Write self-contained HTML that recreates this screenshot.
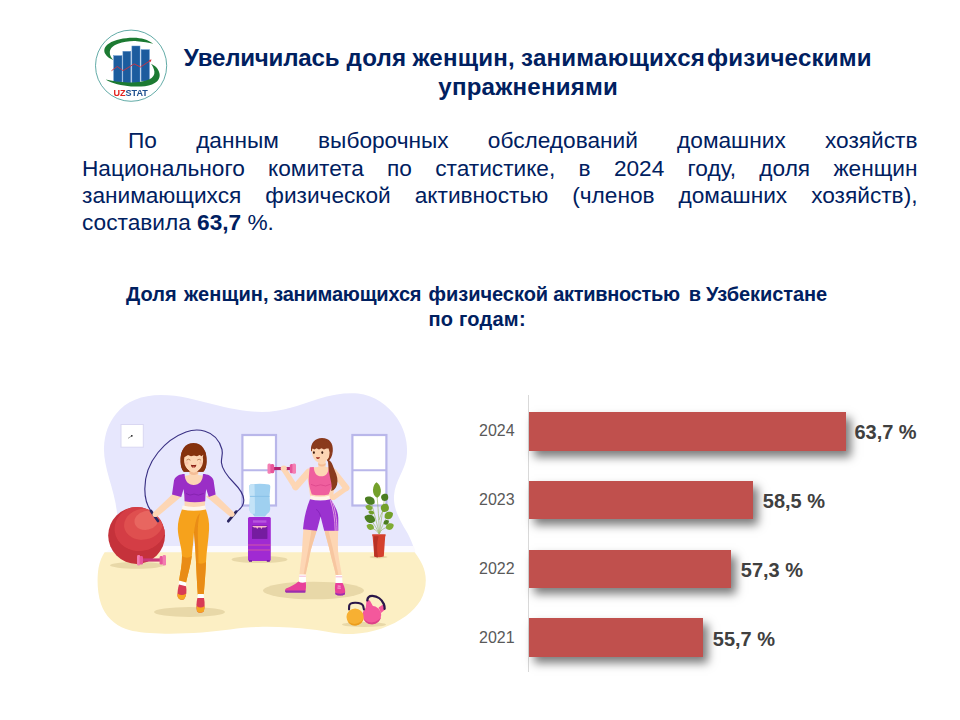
<!DOCTYPE html>
<html lang="ru">
<head>
<meta charset="utf-8">
<title>Увеличилась доля женщин, занимающихся физическими упражнениями</title>
<style>
html,body{margin:0;padding:0;background:#fff;}
body{width:960px;height:720px;position:relative;overflow:hidden;font-family:"Liberation Sans",sans-serif;color:#002060;}
.abs{position:absolute;}
#title{left:0;top:42.8px;width:960px;height:58px;font-weight:bold;font-size:24.08px;line-height:29px;}
#title i{position:absolute;top:0;font-style:normal;white-space:nowrap;}
#body{left:82px;top:127.4px;width:835.5px;font-size:22.67px;line-height:27.25px;}
.jl{text-align:justify;text-align-last:justify;}
#sub{left:0;top:282.4px;width:960px;height:50px;font-weight:bold;font-size:20px;line-height:24.2px;}
#sub i{position:absolute;top:0;font-style:normal;white-space:nowrap;}
.yr{font-size:16px;color:#595959;left:479px;line-height:18px;}
.val{font-size:20px;font-weight:bold;color:#404040;line-height:22px;white-space:nowrap;}
.bar{background:#c0504d;left:529px;box-shadow:5px 6px 9px rgba(0,0,0,.52);}
#axis{left:528px;top:395px;width:1px;height:277px;background:#d9d9d9;}
</style>
</head>
<body>
<svg class="abs" style="left:90px;top:25px" width="82" height="82" viewBox="90 25 82 82">
<defs><filter id="lsoft" x="-5%" y="-5%" width="110%" height="110%"><feGaussianBlur stdDeviation="0.35"/></filter></defs>
<g filter="url(#lsoft)">
<circle cx="131.1" cy="65.7" r="35.6" fill="#fff" stroke="#2f8f8a" stroke-width="0.75"/>
<path d="M153.4 43.8 C148 39.6 141 37.6 133 37.7 C124 37.8 115 39.6 109 43.4 C104.6 46.2 103.2 50 105.2 53.8 C107 57 110.4 59 113.4 60 C111 57.6 109.6 55 109.8 52 C110 48.6 113 45.6 118 43.8 C124 41.6 131 40.8 137 41.2 C143 41.6 149 42.6 153.4 43.8Z" fill="#1b7a33"/>
<g fill="#1d5b9e" stroke="#5d93cc" stroke-width="0.5">
<rect x="113.7" y="55.7" width="8.3" height="26.4"/>
<rect x="122.9" y="51.3" width="7.9" height="31.8"/>
<rect x="131.9" y="46" width="8.1" height="37"/>
<rect x="141.1" y="49.7" width="8.3" height="31.4"/>
</g>
<path d="M151 63.7 C156 66 159 69.6 159.6 74 C160.2 78.6 157.4 82.4 152 84.4 C146 86.8 138 86.8 131 86.4 C122 85.8 112 83.6 105.6 79.6 C112 81.2 120 82.2 128 82.5 C136 82.8 143.6 82 149 79.6 C153 77.6 154.8 74.8 154.4 71.4 C154 68.6 152.8 66 151 63.7Z" fill="#1b7a33"/>
<path d="M111.5 70.7 L117.3 66.5 L123.1 70.7 L134.2 63.9 L140.5 67 L150.6 60.4" fill="none" stroke="#d3323c" stroke-width="0.9"/>
<path d="M151.6 59.6 L148.8 60 L150.4 62.2Z" fill="#d3323c"/>
<text x="113.5" y="95.5" font-family="'Liberation Sans',sans-serif" font-weight="bold" font-size="8.6" textLength="34.4" lengthAdjust="spacingAndGlyphs"><tspan fill="#e2231f">UZ</tspan><tspan fill="#1d4f8e">STAT</tspan></text>
</g>
</svg>

<div id="title" class="abs"><i style="left:183.8px;letter-spacing:-.2px">Увеличилась</i> <i style="left:346.6px;letter-spacing:.25px">доля</i> <i style="left:412.4px;letter-spacing:.2px">женщин,</i> <i style="left:521px;letter-spacing:.24px">занимающихся</i> <i style="left:707px;letter-spacing:.2px">физическими</i> <i style="left:438.3px;top:29px;letter-spacing:.22px">упражнениями</i></div>
<div id="body" class="abs">
<div class="jl" style="padding-left:46px">По данным выборочных обследований домашних хозяйств</div>
<div class="jl">Национального комитета по статистике, в 2024 году, доля женщин</div>
<div class="jl">занимающихся физической активностью (членов домашних хозяйств),</div>
<div>составила <b>63,7</b> %.</div>
</div>
<div id="sub" class="abs"><i style="left:126px">Доля</i> <i style="left:184px;letter-spacing:.1px">женщин,</i> <i style="left:273.2px;letter-spacing:-.2px">занимающихся</i> <i style="left:428.5px;letter-spacing:-.03px">физической</i> <i style="left:553.2px;letter-spacing:-.3px">активностью</i>  <i style="left:688.7px">в</i> <i style="left:706px;letter-spacing:-.08px">Узбекистане</i> <i style="left:428.4px;top:24.2px;letter-spacing:.25px">по годам:</i></div>
<svg class="abs" style="left:0;top:0" width="960" height="720" viewBox="0 0 960 720">
<defs>
<clipPath id="floorclip"><path d="M96 540 H445 V650 H96Z"/></clipPath>
<filter id="soft" x="-5%" y="-5%" width="110%" height="110%"><feGaussianBlur stdDeviation="0.45"/></filter>
</defs>
<g filter="url(#soft)">
<!-- wall blob -->
<path d="M117.5 552 L117.5 522 C117.5 506 113 492 109 478 C106 467 103.6 457 104 447 C104.6 434 108.5 423 116 414 C126 401 142 395 161 395 C180 395 196 400 212 404 C230 408.5 246 412 262 412 C282 412 300 405 318 399 C332 394.5 346 392.5 358 393.5 C374 395 388 405 397 418 C405 430 408.5 444 406.5 458 C404.5 471 395 481 394 496 C393.2 510 401 522 408 534 C411 540 413.5 546 415 552 Z" fill="#e7e7fd"/>
<!-- baseboard -->
<path d="M117.5 546 H414 L415.5 553 H105 Q110 548 117.5 546Z" fill="#fbfaff"/>
<!-- floor -->
<path d="M104.6 552.3 H414.6 C420.8 560.5 425.8 569 425.8 580 C425.8 596 418 607 406 616 C392 626 373 633 353 634 C336 634.5 326 631 312 629.5 C294 627.5 276 626.5 258 627 C238 627.5 222 631 202 632.5 C186 633.5 172 634 160 633.5 C146 633 134 632 126 629 C114 624.5 105 616 101 604 C97 592 97 578 98.5 568 C99.8 561 102 556.5 104.6 552.3Z" fill="#fcefc4"/>

<!-- windows -->
<g fill="#fff" stroke="#b9b7ea" stroke-width="2.2">
<rect x="242.4" y="435" width="33.6" height="70.5"/>
<rect x="352.4" y="435" width="34" height="70.5"/>
</g>
<path d="M242.4 470.3 H276 M352.4 470.3 H386.4" stroke="#b9b7ea" stroke-width="2" fill="none"/>
<!-- clock -->
<rect x="121" y="424.5" width="22.3" height="22.7" fill="#fff" stroke="#d9d7f2" stroke-width="1"/>
<path d="M131.8 435.8 L128 438.4" stroke="#555" stroke-width="0.6"/>
<circle cx="131.8" cy="435.8" r="0.9" fill="#222"/>
<!-- shadows -->
<g fill="#e8d8a8">
<ellipse cx="137" cy="565.3" rx="27" ry="3.4"/>
<ellipse cx="259.5" cy="559.5" rx="28" ry="3.6"/>
<ellipse cx="189.5" cy="612" rx="35.5" ry="5"/>
<ellipse cx="313.5" cy="590.5" rx="50.5" ry="8.8"/>
<ellipse cx="364" cy="624.5" rx="22" ry="2.6"/>
<ellipse cx="378.5" cy="557" rx="9" ry="1.5"/>
</g>
<!-- ball -->
<clipPath id="ballclip"><circle cx="136.6" cy="535.5" r="28.4"/></clipPath>
<circle cx="136.6" cy="535.5" r="28.4" fill="#c5303a"/>
<g clip-path="url(#ballclip)">
<ellipse cx="140" cy="528.4" rx="25.5" ry="22.6" fill="#d43e44" transform="rotate(-8 140 528.4)"/>
<ellipse cx="143.4" cy="524.2" rx="19.4" ry="15.4" fill="#df5050" transform="rotate(-10 143.4 524.2)"/>
<ellipse cx="146.4" cy="520.4" rx="12" ry="9.4" fill="#e86660" transform="rotate(-12 146.4 520.4)"/>
</g>
<!-- small dumbbell -->
<rect x="142" y="558.4" width="20" height="3.2" fill="#c9387a"/>
<rect x="137" y="555" width="3.2" height="10.6" rx="1.4" fill="#f27bb0"/>
<rect x="139.6" y="556" width="3.4" height="8.6" rx="1.4" fill="#e8559a"/>
<rect x="159.6" y="556" width="3.4" height="8.6" rx="1.4" fill="#e8559a"/>
<rect x="162.6" y="555" width="3.4" height="10.6" rx="1.4" fill="#f27bb0"/>
<!-- water cooler -->
<path d="M250.5 484.5 Q259.7 483 269 484.5 Q270.5 485 270.3 487 L269.6 495.5 Q269.4 496.5 269.6 497.5 L270.2 509 Q270.3 512 267 514 L265 516.5 H254.5 L252.5 514 Q249.2 512 249.3 509 L249.9 497.5 Q250.1 496.5 249.9 495.5 L249.2 487 Q249 485 250.5 484.5Z" fill="#9fd0f0"/>
<path d="M250.5 484.5 Q252.5 484.2 254.5 484 L254.8 495.5 L255 513.5 L252.5 514 Q249.2 512 249.3 509 L249.9 497.5 L249.2 487 Q249 485 250.5 484.5Z" fill="#c3e3f7"/>
<path d="M249.9 496.4 H269.6" stroke="#86bfe6" stroke-width="0.9"/>
<rect x="248" y="517" width="22.8" height="44" rx="1.5" fill="#a02ad2"/>
<rect x="252" y="525.5" width="15.4" height="13.4" fill="#741ca0"/>
<rect x="253" y="520.3" width="13.4" height="2.4" fill="#b755de"/>
<path d="M252 526 h15.4 l-2 1.6 h-3 l-1 1.4 l-1-1.4 h-2.2 l-1 1.4 l-1-1.4 h-2.2Z" fill="#f7b6c8"/>
<path d="M248 545 H270.8 M248 550 H270.8" stroke="#e0609a" stroke-width="0.8"/>
<rect x="249" y="560.2" width="3" height="1.6" fill="#741ca0"/><rect x="266.8" y="560.2" width="3" height="1.6" fill="#741ca0"/>
<!-- plant -->
<path d="M379.3 534 C379 520 378 506 377 496 M379.3 534 C377 524 374 512 371 502 M379.3 534 C381 522 383 508 384.5 499 M379.3 534 C376.5 528 373.5 523 371 520 M379.3 534 C382 526 385.5 519 388 516 M379.3 534 C380.5 530 384 528 388 527 M379.3 534 C377.5 531 374 529 371.5 528 M379 520 C381 514 383 510 384.5 508.5" stroke="#9dbb6a" stroke-width="0.7" fill="none"/>
<path transform="translate(376.9 490) rotate(-3) scale(4.26 7.88)" d="M0 -1 C0.95 -0.7 1.5 0.55 0 1 C-1.5 0.55 -0.95 -0.7 0 -1Z" fill="#73a02c"/>
<path transform="translate(384.8 497.3) rotate(35) scale(3.92 3.99)" d="M0 -1 C0.95 -0.7 1.5 0.55 0 1 C-1.5 0.55 -0.95 -0.7 0 -1Z" fill="#4c7d20"/>
<path transform="translate(369.8 500.6) rotate(-62) scale(4.26 5.46)" d="M0 -1 C0.95 -0.7 1.5 0.55 0 1 C-1.5 0.55 -0.95 -0.7 0 -1Z" fill="#4c7d20"/>
<path transform="translate(385 507.8) rotate(30) scale(4.48 4.51)" d="M0 -1 C0.95 -0.7 1.5 0.55 0 1 C-1.5 0.55 -0.95 -0.7 0 -1Z" fill="#73a02c"/>
<path transform="translate(369 507.5) rotate(-70) scale(2.80 3.78)" d="M0 -1 C0.95 -0.7 1.5 0.55 0 1 C-1.5 0.55 -0.95 -0.7 0 -1Z" fill="#7fab35"/>
<path transform="translate(371.3 512.5) rotate(-75) scale(2.13 3.04)" d="M0 -1 C0.95 -0.7 1.5 0.55 0 1 C-1.5 0.55 -0.95 -0.7 0 -1Z" fill="#73a02c"/>
<path transform="translate(388.8 515.3) rotate(60) scale(3.92 4.73)" d="M0 -1 C0.95 -0.7 1.5 0.55 0 1 C-1.5 0.55 -0.95 -0.7 0 -1Z" fill="#73a02c"/>
<path transform="translate(369.8 518.8) rotate(-68) scale(4.26 5.67)" d="M0 -1 C0.95 -0.7 1.5 0.55 0 1 C-1.5 0.55 -0.95 -0.7 0 -1Z" fill="#4c7d20"/>
<path transform="translate(386.3 522.3) rotate(55) scale(2.46 3.04)" d="M0 -1 C0.95 -0.7 1.5 0.55 0 1 C-1.5 0.55 -0.95 -0.7 0 -1Z" fill="#4c7d20"/>
<path transform="translate(389.8 526.5) rotate(65) scale(3.47 4.30)" d="M0 -1 C0.95 -0.7 1.5 0.55 0 1 C-1.5 0.55 -0.95 -0.7 0 -1Z" fill="#7fab35"/>
<path transform="translate(370.3 526.9) rotate(-65) scale(3.14 3.99)" d="M0 -1 C0.95 -0.7 1.5 0.55 0 1 C-1.5 0.55 -0.95 -0.7 0 -1Z" fill="#7fab35"/>
<path d="M372.2 534.2 H385.6 V536.2 H385.2 L383.8 556.4 Q379 558 374.3 556.4 L372.6 536.2 H372.2Z" fill="#d4402f"/>
<path d="M373.8 536.2 H378.6 C376.8 542 376.6 550 378 557.4 Q376 557.2 374.3 556.4Z" fill="#b83226"/>
<!-- kettlebells -->
<path d="M365.6 609 L366.6 600.6 Q368.4 599.4 370 600.8 L373.4 607 Z M378.6 607.6 L382.6 604.8 Q384.6 606 385.2 609.4 L381 613Z" fill="#f4589c"/>
<path d="M367.3 600.4 C367.6 597.4 369.6 595.8 372.4 595.9 C377.4 596.2 382 599.6 383.8 604 C384.4 605.6 384.7 607.2 384.6 608.8" fill="none" stroke="#2a1748" stroke-width="2.3" stroke-linecap="round"/>
<circle cx="371.9" cy="615" r="9.3" fill="#f4589c"/>
<path d="M363.6 619 A9.3 9.3 0 0 0 381 617 A11 11 0 0 1 363.6 619Z" fill="#dc4288"/>
<path d="M349 609.4 L349.2 605.6 C349.6 603.4 351.6 602.8 355 602.7 C359.4 602.6 362.4 603.6 363.2 606 L363.9 609.4" fill="none" stroke="#2a1748" stroke-width="2.1" stroke-linecap="round"/>
<circle cx="355.1" cy="617" r="8.6" fill="#f7b030"/>
<path d="M347.4 620.8 A8.6 8.6 0 0 0 363.5 618.6 A10 10 0 0 1 347.4 620.8Z" fill="#eb9c1c"/>
<!-- woman 1: rope -->
<path d="M151 511 C146.5 505 144.8 497.5 144.8 489 C144.8 476 149.5 463 158 452.5 C165 443.8 175 436 186 432 C192 429.8 199.5 429.6 205 431.2 C213 433.5 219.5 440 222 449.5 C223.2 454.5 221 458.5 221.4 462.5 C222 469 227 476 234.5 483.5 C239.5 488.5 243.5 493.5 243.8 500 C244 505 240.5 509 237 511.5" fill="none" stroke="#3a3184" stroke-width="1.15"/>
<path d="M151 511 L158 521 M236.2 511.6 L228.3 521.2" stroke="#2b2560" stroke-width="2.7" stroke-linecap="round"/>
<!-- arms -->
<path d="M174.2 492.5 L181.6 496.6 L157.6 516.4 Q154.4 517.6 153 515.2 Q152.4 513.2 154.2 511.6Z" fill="#fdd6b4"/>
<path d="M213.4 492.5 L206 496.6 L229.6 516.2 Q232.8 517.4 234.2 515 Q234.8 513 233 511.4Z" fill="#fdd6b4"/>
<circle cx="155" cy="514.4" r="2.5" fill="#fdd6b4"/><circle cx="232" cy="514.2" r="2.5" fill="#fdd6b4"/>
<!-- hair back -->
<path d="M180.6 462 C180 450 185 443 193.5 443 C202 443 207 450 206.5 462 C206.3 466.5 205 470 203.2 471.8 L183.8 471.8 C181.8 469.8 180.8 466.5 180.6 462Z" fill="#85300f"/>
<!-- neck & torso skin -->
<path d="M189.4 466 H198.2 V475 L205.2 476 L205 508 H184.6 L184.4 476 L189.4 475Z" fill="#fdd6b4"/>
<path d="M189.4 470.5 Q193.8 474.5 198.2 470.5 V473.2 Q193.8 477 189.4 473.2Z" fill="#f5bd96"/>
<!-- face -->
<path d="M182.6 458.5 C182.4 462.5 184 466 186.6 468.6 C189.2 471.2 192 472.3 193.7 472.3 C195.4 472.3 198.2 471.2 200.8 468.6 C203.4 466 205 462.5 204.8 458.5 L203 452 L184.4 452Z" fill="#fdd6b4"/>
<path d="M180.6 462 C180.5 457 181 453 182.6 450 L184.4 457 C183.6 460.5 184.2 464.4 186 467.2 C187.2 469.2 188.8 470.8 190.4 471.8 L183.8 471.8 C181.8 469.8 180.8 466.5 180.6 462Z" fill="#85300f"/>
<path d="M206.6 462 C206.7 457 206.2 453 204.6 450 L202.8 457 C203.6 460.5 203 464.4 201.2 467.2 C200 469.2 198.4 470.8 196.8 471.8 L203.4 471.8 C205.4 469.8 206.4 466.5 206.6 462Z" fill="#85300f"/>
<path d="M182.3 458 C182.6 449 187 444.6 193.5 444.6 C200 444.6 204.6 449 205.1 458 L203.4 454.6 L201.6 456.2 L199.6 455 L197 456.2 L194 455.4 L191 456.2 L188 455 L185.6 456.6Z" fill="#85300f"/>
<path d="M186.8 459.9 q1.7 -1.7 3.4 0 M197.4 459.9 q1.7 -1.7 3.4 0" fill="none" stroke="#a0603a" stroke-width="0.7" stroke-linecap="round"/>
<circle cx="186.8" cy="463" r="1.7" fill="#f8b0a0" opacity=".45"/><circle cx="200.7" cy="463" r="1.7" fill="#f8b0a0" opacity=".45"/>
<path d="M190.8 464.7 Q193.6 465.5 196.4 464.7 Q195.9 467.8 193.6 467.8 Q191.3 467.8 190.8 464.7Z" fill="#8c2318"/>
<ellipse cx="193.6" cy="467.1" rx="1.4" ry="0.55" fill="#f3a090"/>
<!-- top -->
<path d="M184.6 474 C180 474 175.4 476 174 480.4 L172 494.4 L181.2 497 L183.6 489 C184.2 493 184.6 497 184.6 501.2 C191 502.6 198.6 502.6 205.2 501.2 C205.2 497 205.6 493 206.2 489 L208.8 497 L215.6 494.4 L213.6 480.4 C212.2 476 207.6 474 203 474 C202.8 481 199.4 485 193.8 485 C188.2 485 184.8 481 184.6 474Z" fill="#9a2ec6"/>
<path d="M186 493.5 Q190 496.5 194 494 Q198 496.5 203.6 493.5" fill="none" stroke="#7d1fa6" stroke-width="0.7"/>
<!-- waistband -->
<path d="M182.6 505.6 Q193.8 508.4 205.2 505.6 L205.9 509.7 Q193.8 512.2 181.9 509.7Z" fill="#fff6ea"/>
<!-- leggings -->
<path d="M181.9 509.5 Q193.8 512 205.9 509.5 C208 516 209.5 522 209.1 529 C208.6 540 206.5 551 206 562 C205.6 572 204.6 584 203.7 594.8 L197.8 594.8 C197 584 196.5 572 196 562 C195.6 551 194.8 541 194 532.5 C193.4 541 192.6 549 191.8 556 C190.6 566 187.6 575 185.9 583.2 L179 581.2 C180 573 182.3 565 182 556 C181.6 546 178 538 177.8 529 C177.6 522 179.6 516 181.9 509.5Z" fill="#f6a21e"/>
<path d="M182 556 C182.3 565 180 573 179 581.2 L185.9 583.2 C187.6 575 190.6 566 191.8 556 Q187 559.5 182 556Z" fill="#e98c12"/>
<path d="M196 562 Q201 565.5 206 562 C205.6 572 204.6 584 203.7 594.8 L197.8 594.8 C197 584 196.5 572 196 562Z" fill="#e98c12"/>
<path d="M194 532.5 C195.6 520 197 516 200 513 C198 520 197.6 528 198 540 C198.3 548 198.5 556 198.4 563.2 Q197 563 196 562 C195.6 551 194.8 541 194 532.5Z" fill="#e98c12"/>
<!-- socks & shoes -->
<path d="M179.2 580.5 L186.2 582.5 L185.6 586.5 L178.6 585Z" fill="#fff"/>
<path d="M197.7 594 H203.9 L203.8 598.5 H197.6Z" fill="#fff"/>
<path d="M179 584.6 L186 586.2 C187 591 186.5 596 184 599.2 C181 600.7 178 599.2 177.5 596 C177.3 592 178 588 179 584.6Z" fill="#d83a55"/>
<path d="M177.5 593.5 Q182 596.5 186.2 593.5 C185.8 596.5 185 598 184 599.2 C181 600.7 178 599.2 177.5 596Z" fill="#f6a623"/>
<path d="M197.4 598 H204 C205 603 204.8 608 203.5 611.7 C201.5 613.4 198.5 613.2 197 611.2 C196 607 196.4 602 197.4 598Z" fill="#d83a55"/>
<path d="M196.5 606 Q200.5 609 204.7 606 C204.6 609 204.2 610.5 203.5 611.7 C201.5 613.4 198.5 613.2 197 611.2 Q196.5 609 196.5 606Z" fill="#f6a623"/>
<!-- woman 2 -->
<!-- right arm (hand on hip) -->
<path d="M333.8 471.8 L346.4 488" stroke="#fdd6b4" stroke-width="6.2" stroke-linecap="round"/>
<path d="M346.4 488.2 L333.6 497.4" stroke="#fdd6b4" stroke-width="5" stroke-linecap="round"/>
<!-- left arm (raised) -->
<path d="M308.6 472 L295.6 487" stroke="#fdd6b4" stroke-width="6.6" stroke-linecap="round"/>
<path d="M295.4 487.2 L284.6 470.4" stroke="#fdd6b4" stroke-width="5.4" stroke-linecap="round"/>
<!-- dumbbell -->
<rect x="272" y="467" width="20" height="3.1" fill="#b3246e"/>
<rect x="267.5" y="463.4" width="3.6" height="10.4" rx="1.5" fill="#f47fb3"/><rect x="270.4" y="464" width="3.8" height="9.2" rx="1.5" fill="#e8559a"/>
<rect x="289.8" y="464" width="3.8" height="9.2" rx="1.5" fill="#e8559a"/><rect x="292.4" y="463.4" width="3.6" height="10.4" rx="1.5" fill="#f47fb3"/>
<circle cx="283.8" cy="468.6" r="3.1" fill="#fdd6b4"/>
<!-- hair back -->
<path d="M311 451 C310.4 443 315 438 322 438 C329.6 438 333.4 443.4 332.8 451 C332.4 456 330.6 459.6 327.6 461.6 L325 455Z" fill="#8a3a1e"/>
<!-- neck & torso skin -->
<path d="M318.3 460 H325.6 V467 C330 467 333.5 467.8 336.4 470.4 L333 498 H310.4 L306.4 470.4 C309 467.8 313 467 318.3 467Z" fill="#fdd6b4"/>
<path d="M318.3 463 Q322 466 325.6 463 V465 Q322 468 318.3 465Z" fill="#f5bd96"/>
<!-- face -->
<path d="M312 449 C311.5 454 313 458.6 316 461 C318 462.7 320.6 463.3 322.6 462.7 C326 461.6 329 458.6 330.2 455.2 C331.5 454.6 331.7 452 330.4 451.2 L329.5 446 L312.4 446Z" fill="#fdd6b4"/>
<path d="M311 451.4 C310.8 444 315.6 439.8 321.6 439.8 C327.4 439.8 331.6 443.6 331.9 450 C332 453 331.4 456 330 458.4 C329.4 459.4 328.4 460.4 327.4 461 C328.6 459 329.4 456 329.6 452.6 L328.6 448.6 L326.4 448.4 L324 449.6 L321.5 448.2 L319 449.6 L316.5 448.2 L314.5 449.6 L312.6 448.6Z" fill="#8a3a1e"/>
<ellipse cx="313.9" cy="452.6" rx="0.95" ry="1.4" fill="#3a1a10"/><ellipse cx="322.3" cy="452.6" rx="0.95" ry="1.4" fill="#3a1a10"/>
<path d="M315.9 457 Q317.9 457.5 320 456.9 Q319.7 459 317.9 459 Q316.2 458.9 315.9 457Z" fill="#9a2a20"/>
<!-- tank top -->
<path d="M309.8 467.2 L313.8 467 C314 473 316.6 476.3 321.3 476.3 C326 476.3 328.6 473 328.8 467 L332.8 467.2 C333.4 474 333.6 480 332.4 485 C331.2 489 329.6 492 328.6 494.5 Q320.3 496.2 311.8 494.5 C310.8 491 309.6 488 309 484 C308.4 479 309 473 309.8 467.2Z" fill="#ef5f9e"/>
<path d="M311 484.4 Q315.6 487.4 320.6 484.8 Q325.6 487.4 330.6 484.2" fill="none" stroke="#d84488" stroke-width="0.7"/>
<path d="M327.6 459.6 C330 460.4 331.6 462.4 332.6 465 C333.6 467.6 334.8 470.6 336.2 474 C338 479 338 484 335.8 487.6 C334.4 489.8 332.8 490.8 331.2 491 C332.2 487 331.4 483 330.4 479 C329.4 474 328.6 469.6 328.4 466.4 C328.2 463.6 328 461.4 327.6 459.6Z" fill="#8a3a1e"/>
<!-- waistband -->
<path d="M310.4 495.6 Q320 498 330 495.6 L330.6 499.4 Q320 501.8 310 499.4Z" fill="#fff6ea"/>
<!-- hand on hip -->
<path d="M329.4 496 Q333 494.4 335.6 496.4 Q335 499.6 331.6 500.2 Q329.2 499 329.4 496Z" fill="#fdd6b4"/>
<!-- legs -->
<path d="M303.6 527 L316.8 529 C314 540 311 548 309.5 556 C308.5 563 306.5 569 305.6 575.5 L299.4 575.5 C299.8 567 301.5 559 302 551 C302.5 543 302.8 536 303.6 527Z" fill="#fdd6b4"/>
<path d="M324.4 529 L338.2 529 C338 540 337.6 548 338.6 556 C339.5 563 341 569 341.9 576 L336 576 C334.5 568 332 561 330.5 554 C329 546 326 538 324.4 529Z" fill="#fdd6b4"/>
<path d="M311.5 530 L316.8 530.5 C314 540 311 548 309.5 556 C308.5 563 306.5 569 305.6 575.5 L303.5 575.5 C305 566 307 556 308.5 548 C309.6 541 310.8 535 311.5 530Z" fill="#f7c6a0"/>
<path d="M324.4 530 L328.5 530 C330 538 332.5 546 334 554 C335.5 562 337.5 569 338.6 576 L336 576 C334.5 568 332 561 330.5 554 C329 546 326 538 324.4 530Z" fill="#f7c6a0"/>
<!-- shorts -->
<path d="M310 499.2 Q320 501.6 330.6 499.2 C334.6 505 338 511 338.3 518 L338.3 530.8 L324.2 530.8 L320.6 516.5 L316.9 530.8 L303 529.2 C304 518 306.4 508 310 499.2Z" fill="#9b30d0"/>
<path d="M330.4 500.2 C333.4 509 335 519 335.2 530.8 M332.2 501.4 C335.2 509 336.8 519 337 530.8" fill="none" stroke="#f3b6e6" stroke-width="0.8"/>
<path d="M320.6 516.5 C319.6 512.5 318 510.4 316 509.4" fill="none" stroke="#7d1fb0" stroke-width="0.7"/>
<!-- socks & shoes -->
<path d="M299.3 574.4 H305.9 L306 583.4 H298.6Z" fill="#fff"/><path d="M299.2 576.2 H305.9" stroke="#f29ac2" stroke-width="0.7"/>
<path d="M335.7 575 H342.1 L342.6 583.6 H335.6Z" fill="#fff"/><path d="M335.7 576.8 H342.2" stroke="#f29ac2" stroke-width="0.7"/>
<path d="M305.8 582 C306.2 586 306 589 305.4 591.6 L286.4 591.6 C284.8 591.4 284.6 589.4 286 588.4 C291 586.4 295.4 584 298.4 581.4 Q302 583.6 305.8 582Z" fill="#e8409a"/>
<path d="M285 590.6 H305.6 L305.3 592.7 H286 Q284.8 592.2 285 590.6Z" fill="#9b2fae"/>
<path d="M335.4 583 H342.6 C344.8 587 345.8 591 344.8 594.2 C342.6 595.8 338 595.8 335.6 594.2 C334.6 590 334.8 586 335.4 583Z" fill="#e8409a"/>
<path d="M335 592.4 Q340 595 345.1 592.4 L344.8 594.4 Q340 596.8 335.6 594.4Z" fill="#9b2fae"/>
<path d="M337.6 586 l3 0.2 M337.4 588 l3.4 0.2" stroke="#fff" stroke-width="0.6"/>

</g>
</svg>

<div id="axis" class="abs"></div>
<div class="abs bar" style="top:412px;width:317px;height:39px"></div>
<div class="abs bar" style="top:481px;width:224px;height:38px"></div>
<div class="abs bar" style="top:550px;width:202px;height:38px"></div>
<div class="abs bar" style="top:618.3px;width:174px;height:38.5px"></div>
<div class="abs yr" style="top:422px">2024</div>
<div class="abs yr" style="top:491px">2023</div>
<div class="abs yr" style="top:560px">2022</div>
<div class="abs yr" style="top:629px">2021</div>
<div class="abs val" style="left:854.4px;top:421px">63,7 %</div>
<div class="abs val" style="left:762.8px;top:490px">58,5 %</div>
<div class="abs val" style="left:740.8px;top:559px">57,3 %</div>
<div class="abs val" style="left:712.8px;top:628px">55,7 %</div>
</body>
</html>
